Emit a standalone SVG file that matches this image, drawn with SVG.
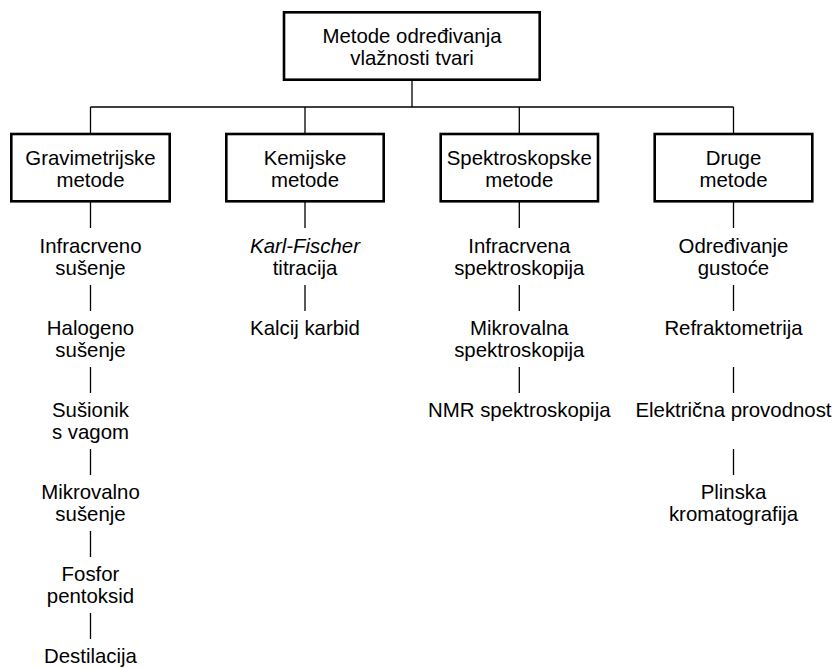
<svg xmlns="http://www.w3.org/2000/svg" width="833" height="668" viewBox="0 0 833 668">
<style>
.box{fill:#fff;stroke:#000;stroke-width:2.6}
.ln{stroke:#000;stroke-width:1.3;fill:none}
text{font-family:"Liberation Sans",Arial,sans-serif;font-size:20.4px;fill:#000;text-anchor:middle}
.it{font-style:italic}
</style>
<rect width="833" height="668" fill="#fff"/>
<g id="connectors">
<path class="ln" d="M412 80 V107 M90.5 107 H733.5 M90.5 107 V134 M305 107 V134 M519.3 107 V134 M733.5 107 V134"/>
<path class="ln" d="M90.5 201 V228 M90.5 285 V311 M90.5 367 V393 M90.5 449 V475 M90.5 531 V557 M90.5 613 V639"/>
<path class="ln" d="M305 201 V228 M305 285 V311"/>
<path class="ln" d="M519.3 201 V228 M519.3 285 V311 M519.3 367 V393"/>
<path class="ln" d="M733.5 201 V228 M733.5 285 V311 M733.5 367 V393 M733.5 449 V475"/>
</g>
<g id="root">
<rect class="box" x="284" y="12.3" width="255.7" height="67.4"/>
<text x="412" y="42.5">Metode određivanja</text>
<text x="412" y="64.5">vlažnosti tvari</text>
</g>
<g id="grav">
<rect class="box" x="11.3" y="134" width="158.4" height="67.3"/>
<text x="90.5" y="164.5">Gravimetrijske</text>
<text x="90.5" y="186.5">metode</text>
</g>
<g id="kem">
<rect class="box" x="226.3" y="134" width="157.4" height="67.3"/>
<text x="305" y="164.5">Kemijske</text>
<text x="305" y="186.5">metode</text>
</g>
<g id="spek">
<rect class="box" x="440.7" y="134" width="157.3" height="67.3"/>
<text x="519.3" y="164.5">Spektroskopske</text>
<text x="519.3" y="186.5">metode</text>
</g>
<g id="druge">
<rect class="box" x="654.7" y="134" width="157.6" height="67.3"/>
<text x="733.5" y="164.5">Druge</text>
<text x="733.5" y="186.5">metode</text>
</g>
<g id="grav-items">
<g id="g1"><text x="90.5" y="253">Infracrveno</text><text x="90.5" y="275">sušenje</text></g>
<g id="g2"><text x="90.5" y="335">Halogeno</text><text x="90.5" y="357">sušenje</text></g>
<g id="g3"><text x="90.5" y="417">Sušionik</text><text x="90.5" y="439">s vagom</text></g>
<g id="g4"><text x="90.5" y="499">Mikrovalno</text><text x="90.5" y="521">sušenje</text></g>
<g id="g5"><text x="90.5" y="581">Fosfor</text><text x="90.5" y="603">pentoksid</text></g>
<g id="g6"><text x="90.5" y="663">Destilacija</text></g>
</g>
<g id="kem-items">
<g id="k1"><text x="305" y="253" class="it">Karl-Fischer</text><text x="305" y="275">titracija</text></g>
<g id="k2"><text x="305" y="335">Kalcij karbid</text></g>
</g>
<g id="spek-items">
<g id="s1"><text x="519.3" y="253">Infracrvena</text><text x="519.3" y="275">spektroskopija</text></g>
<g id="s2"><text x="519.3" y="335">Mikrovalna</text><text x="519.3" y="357">spektroskopija</text></g>
<g id="s3"><text x="519.3" y="417">NMR spektroskopija</text></g>
</g>
<g id="druge-items">
<g id="d1"><text x="733.5" y="253">Određivanje</text><text x="733.5" y="275">gustoće</text></g>
<g id="d2"><text x="733.5" y="335">Refraktometrija</text></g>
<g id="d3"><text x="733.5" y="417">Električna provodnost</text></g>
<g id="d4"><text x="733.5" y="499">Plinska</text><text x="733.5" y="521">kromatografija</text></g>
</g>
</svg>
